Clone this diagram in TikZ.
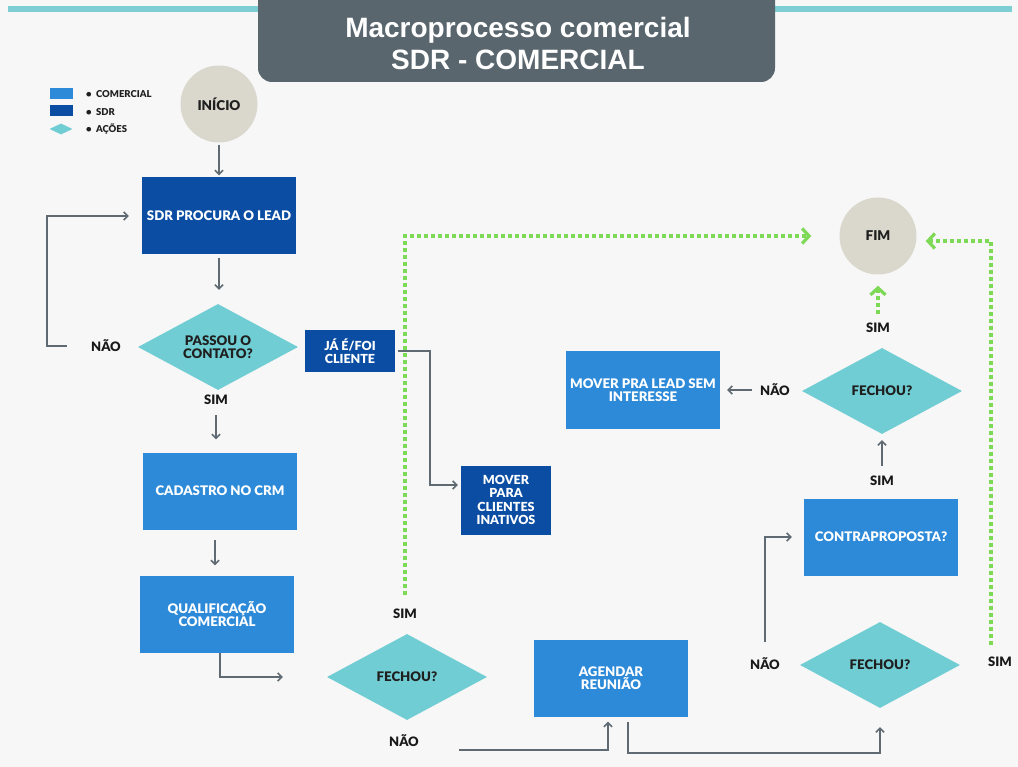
\documentclass[tikz,border=0pt]{standalone}
\usepackage{fontspec}
\setmainfont{Lato}[BoldFont={Lato Black}]
\newfontfamily\titlefont{Liberation Sans}
\usepackage{tikz}
\usetikzlibrary{shapes.geometric, arrows.meta, calc}
\definecolor{comblue}{RGB}{45, 138, 216}
\definecolor{sdrblue}{RGB}{10, 77, 162}
\definecolor{acaoteal}{RGB}{112, 205, 211}
\definecolor{pontobeige}{RGB}{218, 216, 205}
\definecolor{fimgreen}{RGB}{126, 217, 87}
\definecolor{linegray}{RGB}{95, 106, 114}
\definecolor{titleslate}{RGB}{89, 102, 110}
\definecolor{pagebg}{RGB}{247, 247, 247}
\definecolor{topteal}{RGB}{125, 207, 211}
\newcommand{\caixafont}{\bfseries\fontsize{13.2}{13.5}\selectfont}
\newcommand{\minifont}{\bfseries\fontsize{12.5}{13.5}\selectfont}

\begin{document}
\begin{tikzpicture}[x=1pt, y=-1pt,
  comercial/.style={fill=comblue, text=white, minimum width=154pt, minimum height=77pt, align=center, font=\caixafont},
  sdr/.style={fill=sdrblue, text=white, align=center, inner sep=0pt},
  acao/.style={diamond, fill=acaoteal, aspect=1.9, inner sep=0pt, minimum width=160pt, minimum height=86pt, align=center, font=\caixafont, text=black!88},
  ponto/.style={circle, fill=pontobeige, minimum size=77pt, inner sep=0pt, text=black!88, font=\bfseries\fontsize{13.5}{14}\selectfont},
  rotulo/.style={inner sep=2pt, text=black!90, font=\bfseries\fontsize{13}{13}\selectfont},
  legenda/.style={anchor=west, inner sep=0pt, text=black!88, font=\bfseries\fontsize{9.5}{10}\selectfont},
  flow/.style={draw=linegray, line width=1.6pt, -{Straight Barb[length=4pt, width=8pt]}},
  done/.style={draw=fimgreen, line width=3.5pt, dash pattern=on 3.5pt off 3.5pt, -{Straight Barb[length=7pt, width=15pt, line width=3.2pt]}}]

  % page and title band
  \clip (0, 0) rectangle (1018, 767);
  \fill[pagebg] (0, 0) rectangle (1018, 767);
  \fill[topteal] (8, 6) rectangle (1012, 12);
  \fill[titleslate, rounded corners=14pt] (258, -30) rectangle (775, 82);
  \node[text=white, align=center, font=\titlefont\bfseries\fontsize{28}{32}\selectfont] (titulo) at (518, 43) {Macroprocesso comercial\\SDR - COMERCIAL};

  % legend
  \node[fill=comblue, minimum width=23pt, minimum height=11pt, inner sep=0pt] (legcom) at (61, 94) {};
  \node[fill=sdrblue, minimum width=23pt, minimum height=11pt, inner sep=0pt] (legsdr) at (61, 111) {};
  \node[diamond, fill=acaoteal, aspect=2.1, minimum width=23pt, minimum height=11pt, inner sep=0pt] (legacao) at (61, 129) {};
  \node[legenda] (txtcom) at (86, 94) {\textbullet\ \ COMERCIAL};
  \node[legenda] (txtsdr) at (86, 112) {\textbullet\ \ SDR};
  \node[legenda] (txtacao) at (86, 129) {\textbullet\ \ AÇÕES};

  % blocks
  \node[ponto] (inicio) at (219, 104) {INÍCIO};
  \node[sdr, minimum width=154pt, minimum height=77pt, font=\caixafont] (procura) at (219, 216) {SDR PROCURA O LEAD};
  \node[acao] (passou) at (218, 347) {PASSOU O\\CONTATO?};
  \node[sdr, minimum width=90pt, minimum height=42pt, font=\minifont] (ja) at (350, 351) {JÁ É/FOI\\CLIENTE};
  \node[sdr, minimum width=90pt, minimum height=69pt, font=\minifont] (inativos) at (506, 500) {MOVER\\PARA\\CLIENTES\\INATIVOS};
  \node[comercial] (cadastro) at (220, 491) {CADASTRO NO CRM};
  \node[comercial] (qualif) at (217, 614) {QUALIFICAÇÃO\\COMERCIAL};
  \node[acao] (fechoua) at (407, 677) {FECHOU?};
  \node[comercial] (agendar) at (611, 678) {AGENDAR\\REUNIÃO};
  \node[acao] (fechoub) at (880, 665) {FECHOU?};
  \node[comercial] (contra) at (881, 537) {CONTRAPROPOSTA?};
  \node[acao] (fechouc) at (882, 391) {FECHOU?};
  \node[comercial] (mover) at (643, 390) {MOVER PRA LEAD SEM\\INTERESSE};
  \node[ponto] (fim) at (878, 236) {FIM};

  % answers
  \node[rotulo] (nao1) at (106, 346) {NÃO};
  \node[rotulo] (sim1) at (216, 400) {SIM};
  \node[rotulo] (sim2) at (405, 614) {SIM};
  \node[rotulo] (nao2) at (404, 741) {NÃO};
  \node[rotulo] (nao3) at (765, 664) {NÃO};
  \node[rotulo] (sim3) at (1000, 662) {SIM};
  \node[rotulo] (sim4) at (882, 481) {SIM};
  \node[rotulo] (sim5) at (878, 328) {SIM};
  \node[rotulo] (nao4) at (775, 390) {NÃO};

  % connectors
  \draw[flow, shorten <=2pt, shorten >=2pt] (inicio) -- (procura);
  \draw[flow, shorten <=3pt, shorten >=14pt] (procura.south) -- (procura.south |- passou.north);
  \draw[flow, shorten <=22pt, shorten >=13pt] (nao1.west) -- ++(-42, 0) |- (procura.west);
  \draw[flow, shorten <=8pt, shorten >=13pt] (sim1.south) -- (sim1.south |- cadastro.north);
  \draw[flow, shorten <=10pt, shorten >=10pt] ([xshift=-5pt]cadastro.south) -- ([xshift=-5pt]cadastro.south |- qualif.north);
  \draw[flow, shorten >=44pt] ([xshift=3pt]qualif.south) |- (fechoua.west);
  \draw[flow, shorten <=3pt, shorten >=3pt] (ja.east) -- ++(35, 0) |- ([yshift=15pt]inativos.west);
  \draw[flow, shorten >=5pt] ($(nao2.east)+(38, 9)$) -| ([xshift=-3pt]agendar.south);
  \draw[flow, shorten <=5pt, shorten >=19pt] ([xshift=17pt]agendar.south) -- ++(0, 36) -| (fechoub.south);
  \draw[flow, shorten <=14pt, shorten >=12pt] (nao3.north) |- (contra.west);
  \draw[flow, shorten <=8pt, shorten >=6pt] (sim4.north) -- (fechouc.south);
  \draw[flow, shorten <=6pt, shorten >=7pt] (nao4.west) -- (mover.east);
  \draw[done, shorten <=12pt, shorten >=28pt] (sim2.north) |- (fim.west);
  \draw[done, shorten <=10pt, shorten >=9pt] ([xshift=-9pt]sim3.north) |- ([yshift=-5pt]fim.east);
  \draw[done, shorten <=7pt, shorten >=11pt] (sim5.north) -- (sim5.north |- fim.south);
\end{tikzpicture}
\end{document}
